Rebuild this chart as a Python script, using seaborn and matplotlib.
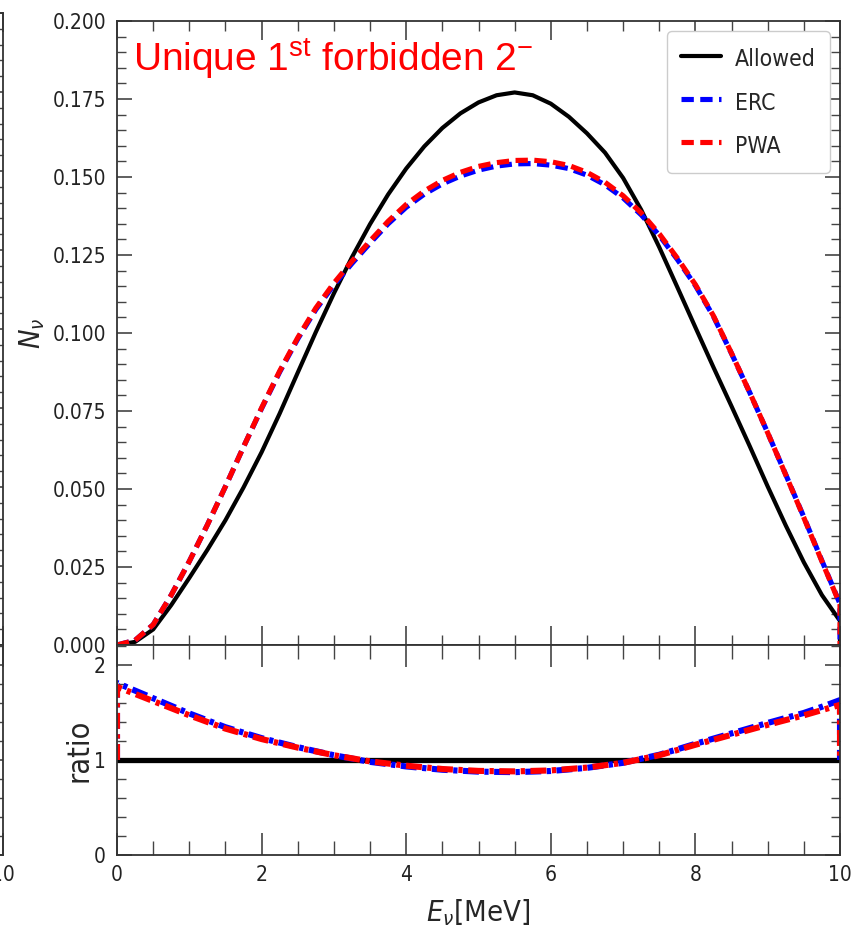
import matplotlib
matplotlib.use("Agg")
import matplotlib.pyplot as plt
import seaborn as sns
import pandas as pd
from matplotlib.ticker import MultipleLocator

# ---------------- data ----------------
E_main = [0.0, 0.25, 0.5, 0.75, 1.0, 1.25, 1.5, 1.75, 2.0, 2.25, 2.5, 2.75,
          3.0, 3.25, 3.5, 3.75, 4.0, 4.25, 4.5, 4.75, 5.0, 5.25, 5.5, 5.75,
          6.0, 6.25, 6.5, 6.75, 7.0, 7.25, 7.5, 7.75, 8.0, 8.25, 8.5, 8.75,
          9.0, 9.25, 9.5, 9.75, 10.0, 10.0]
N_allowed = [0.0, 0.001, 0.005, 0.0128, 0.0215, 0.0305, 0.040, 0.0505, 0.0618,
             0.0742, 0.0873, 0.1003, 0.1127, 0.1243, 0.1349, 0.1444, 0.1527,
             0.1598, 0.1657, 0.1704, 0.1739, 0.1762, 0.1771, 0.1762, 0.1735,
             0.1693, 0.1640, 0.1578, 0.1497, 0.1395, 0.1275, 0.1147, 0.1018,
             0.0890, 0.0765, 0.0638, 0.0508, 0.0383, 0.0265, 0.0160, 0.0077, 0.0]
N_erc = [0.0, 0.0015, 0.0065, 0.016, 0.0268, 0.0385, 0.0508, 0.0635, 0.0758,
         0.0875, 0.0981, 0.1075, 0.1154, 0.1223, 0.1288, 0.1350, 0.1403,
         0.1445, 0.1478, 0.1503, 0.1522, 0.1535, 0.1542, 0.1543, 0.1538,
         0.1527, 0.1506, 0.1475, 0.1433, 0.1379, 0.1313, 0.1236, 0.1152,
         0.1053, 0.0934, 0.0810, 0.0680, 0.0546, 0.0410, 0.0270, 0.0132, 0.0]
N_pwa = [0.0, 0.0015, 0.0065, 0.016, 0.0268, 0.0385, 0.0508, 0.0635, 0.0760,
         0.0878, 0.0985, 0.1080, 0.1160, 0.1230, 0.1295, 0.1358, 0.1412,
         0.1455, 0.1489, 0.1515, 0.1534, 0.1546, 0.1553, 0.1554, 0.1549,
         0.1537, 0.1515, 0.1483, 0.1440, 0.1385, 0.1318, 0.1240, 0.1155,
         0.1055, 0.0935, 0.0810, 0.0680, 0.0545, 0.0408, 0.0268, 0.0130, 0.0]

E_ratio = [0.0, 0.0, 0.25, 0.5, 1.0, 1.5, 2.0, 2.5, 3.0, 3.5, 4.0, 4.5, 5.0,
           5.5, 6.0, 6.5, 7.0, 7.5, 8.0, 8.5, 9.0, 9.5, 9.75, 10.0, 10.0]
R_erc = [1.0, 1.81, 1.73, 1.65, 1.49, 1.345, 1.23, 1.135, 1.05, 0.98, 0.932,
         0.897, 0.877, 0.872, 0.884, 0.917, 0.97, 1.055, 1.17, 1.28, 1.39,
         1.495, 1.56, 1.63, 1.0]
R_pwa = [1.0, 1.77, 1.695, 1.62, 1.47, 1.33, 1.22, 1.13, 1.05, 0.985, 0.94,
         0.905, 0.885, 0.88, 0.89, 0.92, 0.97, 1.05, 1.16, 1.265, 1.37,
         1.47, 1.525, 1.58, 1.0]
E_ratio_allowed = [0.0, 10.0]
R_allowed = [1.0, 1.0]

x_ticks = [0, 2, 4, 6, 8, 10]
y_ticks_main = [0.0, 0.025, 0.05, 0.075, 0.1, 0.125, 0.15, 0.175, 0.2]
y_ticks_ratio = [0, 1, 2]

# ---------------- style ----------------
sns.set_style("ticks")
plt.rcParams["font.family"] = ["DejaVu Sans"]
plt.rcParams["font.stretch"] = "condensed"
plt.rcParams["axes.edgecolor"] = "#333333"
plt.rcParams["axes.linewidth"] = 1.3
plt.rcParams["xtick.color"] = "#444444"
plt.rcParams["ytick.color"] = "#444444"
plt.rcParams["xtick.labelcolor"] = "#222222"
plt.rcParams["ytick.labelcolor"] = "#222222"
plt.rcParams["lines.dash_capstyle"] = "butt"

W, H = 861, 940
fig = plt.figure(figsize=(W / 100, H / 100), dpi=100)

def rect(x0, y0, x1, y1):
    return [x0 / W, 1 - y1 / H, (x1 - x0) / W, (y1 - y0) / H]

ax = fig.add_axes(rect(117, 21, 840, 645))
axr = fig.add_axes(rect(117, 645, 840, 855), sharex=ax)

# neighbouring panel (cropped at the left edge of the screenshot)
axl = fig.add_axes(rect(3 - 723, 13, 3, 645))
axlr = fig.add_axes(rect(3 - 723, 645, 3, 855), sharex=axl)

dash = (0, (2.4, 1.25))
dashdot = (0, (2.6, 0.9, 0.7, 0.9))

main_df = pd.DataFrame({"E": E_main, "Allowed": N_allowed, "ERC": N_erc, "PWA": N_pwa})
ratio_df = pd.DataFrame({"E": E_ratio, "ERC": R_erc, "PWA": R_pwa})

sns.lineplot(data=main_df, x="E", y="Allowed", ax=ax, color="black", lw=3.0,
             label="Allowed", estimator=None, sort=False)
sns.lineplot(data=main_df, x="E", y="ERC", ax=ax, color="#0000ff", lw=3.7,
             linestyle=dash, label="ERC", estimator=None, sort=False)
sns.lineplot(data=main_df, x="E", y="PWA", ax=ax, color="#ff0000", lw=3.7,
             linestyle=dash, label="PWA", estimator=None, sort=False)

sns.lineplot(x=E_ratio_allowed, y=R_allowed, ax=axr, color="black", lw=3.8,
             estimator=None, sort=False, legend=False)
sns.lineplot(data=ratio_df, x="E", y="ERC", ax=axr, color="#0000ff", lw=4.4,
             linestyle=dashdot, estimator=None, sort=False, legend=False)
sns.lineplot(data=ratio_df, x="E", y="PWA", ax=axr, color="#ff0000", lw=4.4,
             linestyle=dashdot, estimator=None, sort=False, legend=False)

for a in (ax, axl):
    a.set_xlim(0, 10)
    a.set_ylim(0, 0.2)
    a.set_yticks(y_ticks_main)
    a.yaxis.set_minor_locator(MultipleLocator(0.005))
    a.xaxis.set_minor_locator(MultipleLocator(0.5))
    a.tick_params(which="both", direction="in", top=True, right=True,
                  labelbottom=False)
    a.tick_params(axis="y", which="major", length=11, width=1.2,
                  labelsize=15, pad=8)
    a.tick_params(axis="y", which="minor", length=6.5, width=1.0)
    a.tick_params(axis="x", which="major", length=14, width=1.2)
    a.tick_params(axis="x", which="minor", length=7, width=1.0)
    a.set_xlabel("")

for a in (axr, axlr):
    a.set_ylim(0, 2.21)
    a.set_yticks(y_ticks_ratio)
    a.set_xticks(x_ticks)
    a.yaxis.set_minor_locator(MultipleLocator(0.2))
    a.xaxis.set_minor_locator(MultipleLocator(0.5))
    a.tick_params(which="both", direction="in", top=True, right=True)
    a.tick_params(axis="y", which="major", length=11, width=1.2,
                  labelsize=15, pad=8)
    a.tick_params(axis="y", which="minor", length=6.5, width=1.0)
    a.tick_params(axis="x", which="major", length=16, width=1.2,
                  labelsize=15, pad=7)
    a.tick_params(axis="x", which="minor", length=10, width=1.0)

axl.tick_params(labelleft=False)
axlr.tick_params(labelleft=False)
axlr.set_xticklabels(["", "", "", "", "", "10"])

ax.set_ylabel(r"$N_\nu$", fontsize=21, labelpad=4)
axr.set_ylabel("ratio", fontsize=22, labelpad=0)
axr.set_xlabel(r"$E_\nu$[MeV]", fontsize=21, labelpad=9)
axl.set_ylabel("")
axlr.set_ylabel("")
axlr.set_xlabel("")

ax.text(0.022, (645 - 71) / 624,
        "Unique 1$^{\\mathregular{st}}$ forbidden 2$^{\\mathregular{\u2212}}$",
        transform=ax.transAxes, color="#ff0000", fontsize=28,
        family=["Liberation Sans", "DejaVu Sans"], fontstretch="normal",
        ha="left", va="baseline")

leg = ax.legend(loc="upper right", fontsize=16.5, frameon=True, fancybox=True,
                edgecolor="#cccccc", framealpha=1.0, handlelength=1.75,
                handleheight=1.45, handletextpad=0.6, labelspacing=0.7,
                borderaxespad=0.45, borderpad=0.6)

fig.savefig("out.png", dpi=100)
